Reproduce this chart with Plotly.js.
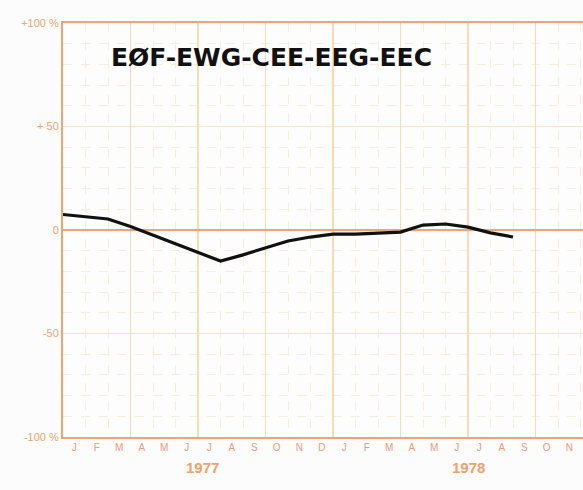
<!DOCTYPE html>
<html>
<head>
<meta charset="utf-8">
<script src="https://cdn.plot.ly/plotly-3.0.1.min.js"></script>
<style>html,body{margin:0;padding:0;background:#fcfcfc;}#chart{width:583px;height:490px;}</style>
</head>
<body>
<div id="chart"></div>
<script>
// Month index: 0 = start of January 1977 (month boundaries)
const monthIndex = [0,1,2,3,4,5,6,7,8,9,10,11,12,13,14,15,16,17,18,19,20];
const changePct  = [7.5,6.5,5.3,1.7,-2.4,-6.7,-10.5,-15,-12,-8.7,-5.3,-3.4,-2,-2,-1.4,-1,2.4,2.9,1.4,-1.4,-3.4];
const monthLabels = ['J','F','M','A','M','J','J','A','S','O','N','D','J','F','M','A','M','J','J','A','S','O','N'];
const monthCenters = monthLabels.map((_, i) => i + 0.5);
const yearLabels = ['1977','1978'];
const yearPos = [6.2, 18];
const yTickVals = [-100,-50,0,50,100];
const yTickText = ['-100 %','-50','0','+ 50','+100 %'];
const quarterBounds = [0,3,6,9,12,15,18,21];
const titleText = 'EØF-EWG-CEE-EEG-EEC';

const orange = '#f3a46c';
const data = [{
  x: monthIndex, y: changePct, type: 'scatter', mode: 'lines',
  line: {color: '#111111', width: 3.2}, xaxis: 'x', yaxis: 'y', hoverinfo: 'skip'
}];

const layout = {
  width: 583, height: 490,
  margin: {l: 63, r: 0, t: 23, b: 53},
  paper_bgcolor: '#fcfcfc', plot_bgcolor: '#fdfdfd',
  showlegend: false,
  xaxis: {
    range: [0, 520/22.5], tickvals: monthCenters, ticktext: monthLabels,
    showgrid: false, zeroline: false, ticks: '',
    tickfont: {family: 'Liberation Sans', size: 10, color: '#f29a78'},
    showline: true, linecolor: orange, linewidth: 2, mirror: true,
    minor: {dtick: 1, tick0: 0, showgrid: true, gridcolor: '#f7eedb', griddash: 'dash', gridwidth: 1},
    fixedrange: true
  },
  xaxis2: {
    overlaying: 'x', matches: 'x', range: [0, 520/22.5], tickvals: quarterBounds,
    showticklabels: false, showgrid: true, gridcolor: '#f7dcb8', gridwidth: 1.5, zeroline: false, ticks: ''
  },
  yaxis: {
    range: [-100, 100], tickvals: yTickVals, ticktext: yTickText,
    tickfont: {family: 'Liberation Sans', size: 11, color: orange},
    showgrid: true, gridcolor: '#f7e4d0', gridwidth: 1,
    zeroline: true, zerolinecolor: orange, zerolinewidth: 2,
    showline: true, linecolor: orange, linewidth: 2, mirror: false, ticks: '',
    minor: {dtick: 10, tick0: 0, showgrid: true, gridcolor: '#f5eedc', griddash: 'dash', gridwidth: 1},
    fixedrange: true
  },
  annotations: [
    {text: titleText, xref: 'paper', yref: 'paper', x: 0.4, y: 0.917, xanchor: 'center', yanchor: 'middle',
     showarrow: false, font: {family: 'DejaVu Sans', size: 25, color: '#111111', weight: 'bold'}}
  ].concat(yearLabels.map((t, i) => ({
    text: t, xref: 'x', yref: 'paper', x: yearPos[i], y: 0, yanchor: 'middle', yshift: -30,
    showarrow: false, font: {family: 'Liberation Sans', size: 15, color: '#f2a070', weight: 'bold'}
  })))
};
// dummy trace on xaxis2 so its grid is drawn
data.push({x: [0], y: [null], xaxis: 'x2', yaxis: 'y', type: 'scatter', mode: 'lines', hoverinfo: 'skip'});
Plotly.newPlot('chart', data, layout, {staticPlot: true});
</script>
</body>
</html>
